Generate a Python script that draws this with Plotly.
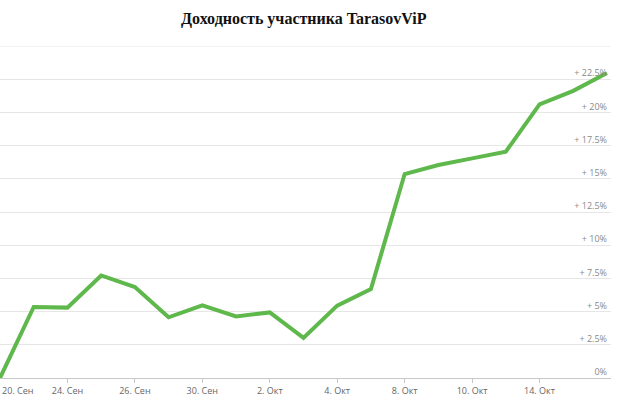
import plotly.graph_objects as go

dates = ["20. Сен", "23. Сен", "24. Сен", "25. Сен", "26. Сен", "27. Сен", "30. Сен",
         "1. Окт", "2. Окт", "3. Окт", "4. Окт", "7. Окт", "8. Окт", "9. Окт",
         "10. Окт", "11. Окт", "14. Окт", "15. Окт", "16. Окт"]
returns = [0.0, 5.35, 5.3, 7.72, 6.85, 4.57, 5.47, 4.64, 4.94, 3.02, 5.45, 6.7,
           15.36, 16.04, 16.54, 17.04, 20.6, 21.62, 22.97]
x_label_idx = [2, 4, 6, 8, 10, 12, 14, 16]
y_ticks = [0, 2.5, 5, 7.5, 10, 12.5, 15, 17.5, 20, 22.5]
y_labels = ["0%", "+ 2.5%", "+ 5%", "+ 7.5%", "+ 10%", "+ 12.5%", "+ 15%", "+ 17.5%", "+ 20%", "+ 22.5%"]

idx = list(range(len(dates)))

fig = go.Figure()
fig.add_trace(go.Scatter(x=idx, y=returns, mode="lines",
                         line=dict(color="#5fb84c", width=4), hoverinfo="skip"))

fig.add_annotation(x=0, y=0, xref="x", yref="y", text=dates[0], showarrow=False,
                   xanchor="left", yanchor="top", yshift=-4,
                   font=dict(family="Open Sans, sans-serif", size=9, color="#666"))

fig.update_layout(
    width=620, height=408,
    margin=dict(l=0, r=9, t=46, b=30),
    paper_bgcolor="white", plot_bgcolor="white",
    showlegend=False,
    title=dict(text="<b>Доходность участника TarasovViP</b>", x=0.49, xanchor="center",
               y=0.955, yanchor="middle",
               font=dict(family="Liberation Serif, Times New Roman, serif", size=16, color="#111")),
    xaxis=dict(range=[0, 18.12], tickmode="array", automargin=False,
               tickvals=x_label_idx, ticktext=[dates[i] for i in x_label_idx],
               showgrid=False, zeroline=False, showline=True, linecolor="#c8c8c8", linewidth=1,
               ticks="outside", ticklen=4, tickcolor="#c8c8c8",
               tickfont=dict(family="Open Sans, sans-serif", size=9, color="#666")),
    yaxis=dict(range=[0, 25], side="right", tickmode="array", automargin=False,
               tickvals=y_ticks, ticktext=y_labels, ticklabelposition="inside",
               ticklabeloverflow="allow",
               ticklabelshift=-6, ticklabelstandoff=1,
               showgrid=True, gridcolor="#e6e6e6", gridwidth=1, zeroline=False,
               showline=False, ticks="",
               tickfont=dict(family="Open Sans, sans-serif", size=9, color="#8a8a8a")),
)
fig.add_shape(type="line", xref="paper", yref="y", x0=0, x1=1, y0=25, y1=25,
              line=dict(color="#e6e6e6", width=1), layer="below")

fig.write_html("out.html", config={"displayModeBar": False},
               post_script="document.body.style.margin='0';")
